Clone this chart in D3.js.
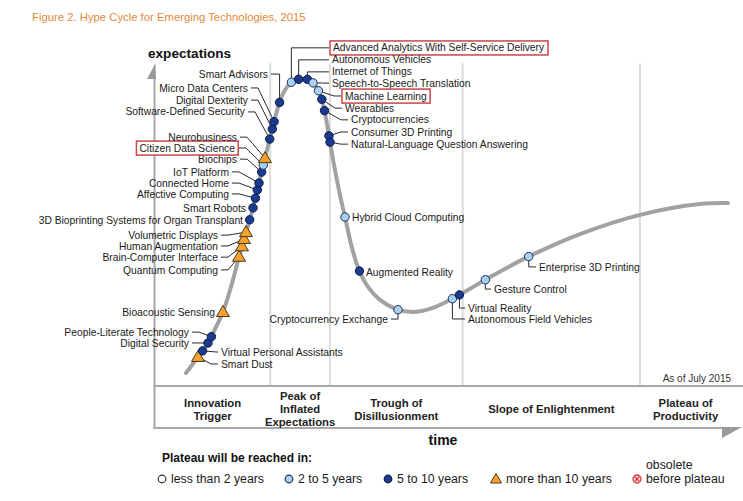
<!DOCTYPE html>
<html><head><meta charset="utf-8">
<script src="https://cdn.jsdelivr.net/npm/d3@7"></script>
<style>
body{margin:0;background:#fff;}
svg{display:block;font-family:"Liberation Sans",Arial,Helvetica,sans-serif;}
</style></head><body>
<svg id="c" width="743" height="501"></svg>
<script>
// ---------- DATA ----------
const chartTitle = "Figure 2. Hype Cycle for Emerging Technologies, 2015";
const techNames = [
  "Smart Dust","Virtual Personal Assistants","Digital Security","People-Literate Technology",
  "Bioacoustic Sensing","Quantum Computing","Brain-Computer Interface","Human Augmentation",
  "Volumetric Displays","3D Bioprinting Systems for Organ Transplant","Smart Robots",
  "Affective Computing","Connected Home","IoT Platform","Biochips","Citizen Data Science",
  "Neurobusiness","Software-Defined Security","Digital Dexterity","Micro Data Centers",
  "Smart Advisors","Advanced Analytics With Self-Service Delivery","Autonomous Vehicles",
  "Internet of Things","Speech-to-Speech Translation","Machine Learning","Wearables",
  "Cryptocurrencies","Consumer 3D Printing","Natural-Language Question Answering",
  "Hybrid Cloud Computing","Augmented Reality","Cryptocurrency Exchange",
  "Autonomous Field Vehicles","Virtual Reality","Gesture Control","Enterprise 3D Printing"
];
// position along time axis (0-100)
const techTime = [7.35,8.38,9.06,9.74,11.62,14.36,14.87,15.21,15.56,16.24,16.75,17.09,17.44,17.78,
  18.29,18.46,18.80,19.49,20.17,20.51,21.20,23.25,24.62,25.98,27.01,27.86,28.55,28.89,29.57,30.09,
  32.48,34.70,41.54,50.77,51.97,56.41,63.93];
// expectations (0-100)
const techExpect = [8.9,10.4,13.2,15.0,22.7,39.6,42.9,45.1,47.2,50.9,54.6,57.7,60.1,62.3,65.6,67.8,
  69.9,75.8,78.8,81.0,87.1,93.3,93.6,93.6,92.9,90.5,88.0,84.4,76.7,74.8,51.8,35.0,23.6,27.0,28.2,
  32.8,39.6];
// years to plateau: "2-5", "5-10", ">10"
const techPlateau = [">10","5-10","5-10","5-10",">10",">10",">10",">10",">10","5-10","5-10",
  "5-10","5-10","5-10","5-10","2-5",">10","5-10","5-10","5-10","5-10","2-5","5-10","5-10","2-5",
  "2-5","5-10","5-10","5-10","5-10","2-5","5-10","2-5","2-5","5-10","2-5","2-5"];
const highlighted = ["Citizen Data Science","Advanced Analytics With Self-Service Delivery","Machine Learning"];

// hype curve shape (time, expectations)
const curveTime = [5.30,7.35,9.06,10.43,11.62,12.99,14.36,15.56,16.75,17.78,18.80,19.83,21.20,22.22,
  23.42,24.96,26.32,27.35,28.38,29.06,29.74,30.60,31.62,32.48,33.68,34.87,36.41,38.46,41.20,44.10,
  47.35,50.43,53.85,57.26,64.10,72.65,82.91,93.16,97.95];
const curveExpect = [4.0,8.9,13.2,18.1,22.7,30.4,39.6,47.2,54.6,62.3,69.9,77.3,86.5,90.8,93.3,94.2,
  93.9,92.3,88.7,83.7,76.7,67.8,58.6,51.8,42.3,35.6,30.4,26.4,23.6,22.7,23.9,26.4,29.8,33.4,39.9,
  46.6,52.5,55.8,56.1];

const phaseNames = [["Innovation","Trigger"],["Peak of","Inflated","Expectations"],
  ["Trough of","Disillusionment"],["Slope of Enlightenment"],["Plateau of","Productivity"]];
const phaseBounds = [0,19.7,29.9,52.6,82.9,98.5];
const legendTitle = "Plateau will be reached in:";
const legendLabels = ["less than 2 years","2 to 5 years","5 to 10 years","more than 10 years","before plateau"];
const legendKinds = ["<2","2-5","5-10",">10","obsolete"];

// ---------- LAYOUT (label offsets in px from each point, anchor, leader style) ----------
const labelLayout = [
  [23,7,"start","bend"],[17,0,"start","straight"],[-19,0,"end","straight"],[-23,-5,"end","bend"],
  [-8,0,"end","none"],[-21,13,"end","bend"],[-24,11,"end","bend"],[-26,7,"end","bend"],
  [-28,3,"end","bend"],[-7,0,"end","none"],[-7,0,"end","none"],[-26,-4,"end","bend"],
  [-28,-7,"end","bend"],[-30,-11,"end","bend"],[-25,-13,"end","bend"],[-28,-17,"end","bend"],
  [-28,-21,"end","bend"],[-24,-27,"end","bend"],[-25,-29,"end","bend"],[-27,-34,"end","bend"],
  [-11,-28,"end","elbowH"],[42,-34,"start","elbowH"],[33,-21,"start","elbowH"],[25,-9,"start","elbowH"],
  [19,0,"start","straight"],[27,5,"start","bend"],[23,9,"start","bend"],[27,9,"start","bend"],
  [23,-4,"start","bend"],[20,2,"start","bend"],[7,0,"start","none"],[8,0,"start","none"],
  [-10,10,"end","elbowV"],[16,21,"start","elbowV"],[9,14,"start","elbowV"],[9,10,"start","elbowV"],
  [10,10,"start","elbowV"]
];

const colors = {"<2":"#ffffff","2-5":"#a9d2f2","5-10":"#1b3b8e",">10":"#f2a22c"};
const strokes = {"<2":"#333","2-5":"#1c2d5e","5-10":"#0b1a4a",">10":"#4a3a1c"};

// ---------- SCALES ----------
const x = d3.scaleLinear().domain([0,100]).range([155,740]);
const y = d3.scaleLinear().domain([0,100]).range([386,60]);

const svg = d3.select("#c");
const FONT = 10.3;

// title
svg.append("text").attr("x",32).attr("y",17).attr("dy","0.35em")
  .attr("font-size",11.3).attr("fill","#e38a3c").text(chartTitle);

// expectations label
svg.append("text").attr("x",148).attr("y",53).attr("dy","0.35em")
  .attr("font-size",13.6).attr("font-weight","bold").attr("fill","#111").text("expectations");

// phase dividers
svg.append("g").selectAll("line").data(phaseBounds.slice(1,5)).join("line")
  .attr("x1",d=>x(d)).attr("x2",d=>x(d)).attr("y1",y(99)).attr("y2",y(0))
  .attr("stroke","#dcdcdc").attr("stroke-width",2);

// axes frame
const axisCol = "#a8a8a8";
svg.append("line").attr("x1",x(0)-0.5).attr("x2",x(0)-0.5).attr("y1",78).attr("y2",429)
  .attr("stroke",axisCol).attr("stroke-width",2);
svg.append("path").attr("d","M155.5,63L147,79L156,79Z").attr("fill","#9a9a9a");
svg.append("line").attr("x1",x(0)-1.5).attr("x2",743).attr("y1",y(0)).attr("y2",y(0))
  .attr("stroke",axisCol).attr("stroke-width",2);
svg.append("line").attr("x1",x(0)-1.5).attr("x2",724).attr("y1",428).attr("y2",428)
  .attr("stroke",axisCol).attr("stroke-width",2);
svg.append("path").attr("d","M722,427L742,427L722,438Z").attr("fill","#9a9a9a");

// as of
svg.append("text").attr("x",731).attr("y",378).attr("dy","0.35em").attr("text-anchor","end")
  .attr("font-size",10).attr("fill","#333").text("As of July 2015");

// phase labels
const phaseG = svg.append("g");
phaseNames.forEach((lines,i)=>{
  const cx = x((phaseBounds[i]+phaseBounds[i+1])/2);
  const lh = 13, cy = 409.5;
  const t = phaseG.append("text").attr("text-anchor","middle").attr("font-size",11.3)
    .attr("font-weight","bold").attr("fill","#222");
  lines.forEach((ln,j)=>{
    t.append("tspan").attr("x",cx).attr("y",cy + (j-(lines.length-1)/2)*lh).attr("dy","0.35em").text(ln);
  });
});

// time label
svg.append("text").attr("x",443).attr("y",440).attr("dy","0.35em").attr("text-anchor","middle")
  .attr("font-size",14).attr("font-weight","bold").attr("fill","#111").text("time");

// hype curve
const curvePts = curveTime.map((t,i)=>[x(t), y(curveExpect[i])]);
const curvePath = svg.append("path")
  .attr("d", d3.line().curve(d3.curveCatmullRom.alpha(0.5))(curvePts))
  .attr("fill","none").attr("stroke","#a2a2a2").attr("stroke-width",4).attr("stroke-linecap","round");

const node = curvePath.node();
const L = node.getTotalLength();
const samples = [];
for(let s=0;s<=L;s+=0.4){const p=node.getPointAtLength(s); samples.push([p.x,p.y]);}
function snap(px,py){
  let best=samples[0], bd=Infinity;
  for(const s of samples){const d=(s[0]-px)**2+(s[1]-py)**2; if(d<bd){bd=d;best=s;}}
  return best;
}

const techs = techNames.map((name,i)=>{
  const ex = x(techTime[i]), ey = y(techExpect[i]);
  const p = snap(ex,ey);
  const [dx,dy,anchor,leader] = labelLayout[i];
  return {name, kind:techPlateau[i], p, lx:ex+dx, ly:ey+dy, anchor, leader,
          boxed: highlighted.includes(name)};
});

function leaderPts(d){
  const gap = d.boxed?4:3;
  const ex = d.anchor==="end" ? d.lx+gap : d.lx-gap;
  const dir = d.anchor==="end" ? 1 : -1;
  const [px,py] = d.p;
  switch(d.leader){
    case "straight": return [[px,py],[ex,d.ly]];
    case "bend": return [[ex,d.ly],[ex+dir*7,d.ly],[px,py]];
    case "elbowH": return [[ex,d.ly],[px,d.ly],[px,py]];
    case "elbowV": return [[px,py],[px,d.ly],[ex,d.ly]];
    default: return null;
  }
}

// leaders
svg.append("g").selectAll("path").data(techs.filter(d=>d.leader!=="none")).join("path")
  .attr("d",d=>d3.line()(leaderPts(d))).attr("fill","none").attr("stroke","#2a2a2a").attr("stroke-width",1);

// markers
const triPath = "M0,-6.5L6.5,4.5L-6.5,4.5Z";
const mk = svg.append("g");
techs.forEach(d=>{
  if(d.kind===">10"){
    mk.append("path").attr("d",triPath).attr("transform",`translate(${d.p[0]},${d.p[1]})`)
      .attr("fill",colors[d.kind]).attr("stroke",strokes[d.kind]).attr("stroke-width",1);
  } else {
    mk.append("circle").attr("cx",d.p[0]).attr("cy",d.p[1]).attr("r",4.2)
      .attr("fill",colors[d.kind]).attr("stroke",strokes[d.kind]).attr("stroke-width",1);
  }
});

// labels
const lg = svg.append("g");
techs.forEach(d=>{
  const g = lg.append("g");
  const t = g.append("text").attr("x",d.lx).attr("y",d.ly).attr("dy","0.35em")
    .attr("text-anchor",d.anchor).attr("font-size",FONT).attr("fill","#1a1a1a").text(d.name);
  if(d.boxed){
    const b = t.node().getBBox();
    g.insert("rect","text").attr("x",b.x-3).attr("y",b.y-1.5).attr("width",b.width+6).attr("height",b.height+3)
      .attr("fill","#fff").attr("stroke","#c9464a").attr("stroke-width",1.5);
  }
});

// legend
svg.append("text").attr("x",162).attr("y",458).attr("dy","0.35em").attr("font-size",12)
  .attr("font-weight","bold").attr("fill","#111").text(legendTitle);
const legX = [162,289,388,496,637];
const legY = 479;
legendKinds.forEach((k,i)=>{
  const cx = legX[i];
  if(k===">10"){
    svg.append("path").attr("d","M0,-5.5L5.5,4L-5.5,4Z").attr("transform",`translate(${cx},${legY})`)
      .attr("fill",colors[k]).attr("stroke",strokes[k]);
  } else if(k==="obsolete"){
    svg.append("circle").attr("cx",cx).attr("cy",legY).attr("r",4).attr("fill","#fbdede")
      .attr("stroke","#e0393e").attr("stroke-width",1.3);
    svg.append("path").attr("d",`M${cx-2.3},${legY-2.3}L${cx+2.3},${legY+2.3}M${cx+2.3},${legY-2.3}L${cx-2.3},${legY+2.3}`)
      .attr("stroke","#e0393e").attr("stroke-width",1.3);
  } else {
    svg.append("circle").attr("cx",cx).attr("cy",legY).attr("r",3.8)
      .attr("fill",colors[k]).attr("stroke",strokes[k]).attr("stroke-width",1.2);
  }
  svg.append("text").attr("x",cx+(k===">10"?10:9)).attr("y",legY).attr("dy","0.35em").attr("font-size",12.3)
    .attr("fill","#1a1a1a").text(legendLabels[i]);
});
svg.append("text").attr("x",646).attr("y",465).attr("dy","0.35em").attr("font-size",12.3)
  .attr("fill","#1a1a1a").text("obsolete");
</script>
</body></html>
